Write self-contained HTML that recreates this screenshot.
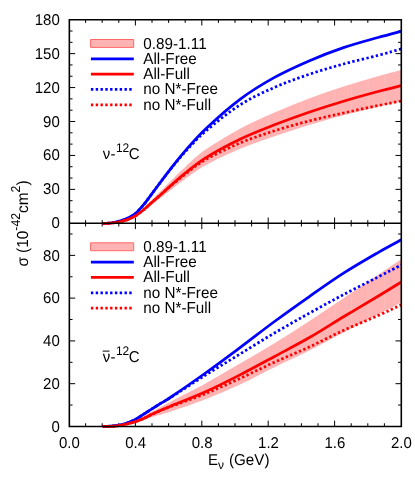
<!DOCTYPE html><html><head><meta charset="utf-8"><style>html,body{margin:0;padding:0;background:#fff}svg{display:block;will-change:transform}text{text-rendering:geometricPrecision;font-family:"Liberation Sans",sans-serif;fill:#000}</style></head><body>
<svg width="415" height="485" viewBox="0 0 415 485">
<rect width="415" height="485" fill="#fff"/>
<defs><clipPath id="ct"><rect x="69.35" y="19.70" width="331.95" height="206.60"/></clipPath><clipPath id="cb"><rect x="69.35" y="223.30" width="331.95" height="206.15"/></clipPath></defs>
<path d="M85.60 19.70v3.20M85.60 220.10v6.40M85.60 426.45v-3.20M102.20 19.70v3.20M102.20 220.10v6.40M102.20 426.45v-3.20M118.80 19.70v3.20M118.80 220.10v6.40M118.80 426.45v-3.20M135.40 19.70v5.80M135.40 217.50v11.60M135.40 426.45v-5.80M152.00 19.70v3.20M152.00 220.10v6.40M152.00 426.45v-3.20M168.60 19.70v3.20M168.60 220.10v6.40M168.60 426.45v-3.20M185.20 19.70v3.20M185.20 220.10v6.40M185.20 426.45v-3.20M201.80 19.70v5.80M201.80 217.50v11.60M201.80 426.45v-5.80M218.40 19.70v3.20M218.40 220.10v6.40M218.40 426.45v-3.20M235.00 19.70v3.20M235.00 220.10v6.40M235.00 426.45v-3.20M251.60 19.70v3.20M251.60 220.10v6.40M251.60 426.45v-3.20M268.20 19.70v5.80M268.20 217.50v11.60M268.20 426.45v-5.80M284.80 19.70v3.20M284.80 220.10v6.40M284.80 426.45v-3.20M301.40 19.70v3.20M301.40 220.10v6.40M301.40 426.45v-3.20M318.00 19.70v3.20M318.00 220.10v6.40M318.00 426.45v-3.20M334.60 19.70v5.80M334.60 217.50v11.60M334.60 426.45v-5.80M351.20 19.70v3.20M351.20 220.10v6.40M351.20 426.45v-3.20M367.80 19.70v3.20M367.80 220.10v6.40M367.80 426.45v-3.20M384.40 19.70v3.20M384.40 220.10v6.40M384.40 426.45v-3.20M69.35 211.99h3.20M401.30 211.99h-3.20M69.35 200.68h3.20M401.30 200.68h-3.20M69.35 189.37h5.80M401.30 189.37h-5.80M69.35 178.06h3.20M401.30 178.06h-3.20M69.35 166.74h3.20M401.30 166.74h-3.20M69.35 155.43h5.80M401.30 155.43h-5.80M69.35 144.12h3.20M401.30 144.12h-3.20M69.35 132.81h3.20M401.30 132.81h-3.20M69.35 121.50h5.80M401.30 121.50h-5.80M69.35 110.19h3.20M401.30 110.19h-3.20M69.35 98.88h3.20M401.30 98.88h-3.20M69.35 87.57h5.80M401.30 87.57h-5.80M69.35 76.26h3.20M401.30 76.26h-3.20M69.35 64.94h3.20M401.30 64.94h-3.20M69.35 53.63h5.80M401.30 53.63h-5.80M69.35 42.32h3.20M401.30 42.32h-3.20M69.35 31.01h3.20M401.30 31.01h-3.20M69.35 405.07h3.20M401.30 405.07h-3.20M69.35 383.68h5.80M401.30 383.68h-5.80M69.35 362.30h3.20M401.30 362.30h-3.20M69.35 340.91h5.80M401.30 340.91h-5.80M69.35 319.53h3.20M401.30 319.53h-3.20M69.35 298.14h5.80M401.30 298.14h-5.80M69.35 276.76h3.20M401.30 276.76h-3.20M69.35 255.38h5.80M401.30 255.38h-5.80M69.35 233.99h3.20M401.30 233.99h-3.20" stroke="#000" stroke-width="1.00" fill="none"/>
<path d="M102.70 223.30 C104.00 223.26 107.82 223.32 110.50 223.07 C113.18 222.83 116.05 222.44 118.80 221.84 C121.55 221.24 124.23 220.62 127.00 219.47 C129.77 218.33 132.62 216.89 135.40 214.97 C138.18 213.06 140.93 210.55 143.70 208.00 C146.47 205.45 149.03 202.62 152.00 199.68 C154.97 196.73 158.33 193.51 161.50 190.34 C164.67 187.17 167.05 184.56 171.00 180.66 C174.95 176.76 179.43 172.11 185.20 166.94 C190.97 161.76 196.47 155.99 205.60 149.61 C214.73 143.24 228.52 134.88 240.00 128.69 C251.48 122.50 263.00 117.53 274.50 112.49 C286.00 107.44 297.50 102.75 309.00 98.43 C320.50 94.11 332.00 90.27 343.50 86.57 C355.00 82.87 368.35 79.00 378.00 76.25 C387.65 73.49 397.50 71.08 401.40 70.05 L401.40 101.44 C397.50 102.31 387.65 104.36 378.00 106.66 C368.35 108.96 355.00 112.19 343.50 115.24 C332.00 118.29 320.50 121.50 309.00 124.98 C297.50 128.46 286.00 132.15 274.50 136.13 C263.00 140.11 251.48 144.00 240.00 148.87 C228.52 153.74 214.73 160.32 205.60 165.33 C196.47 170.35 190.97 174.89 185.20 178.96 C179.43 183.03 174.95 186.69 171.00 189.76 C167.05 192.83 164.67 194.88 161.50 197.37 C158.33 199.86 154.97 202.40 152.00 204.72 C149.03 207.03 146.47 209.26 143.70 211.26 C140.93 213.27 138.18 215.25 135.40 216.75 C132.62 218.26 129.77 219.39 127.00 220.29 C124.23 221.19 121.55 221.68 118.80 222.15 C116.05 222.62 113.18 222.93 110.50 223.12 C107.82 223.31 104.00 223.27 102.70 223.30 Z" fill="#ffb3b3" clip-path="url(#ct)"/>
<clipPath id="sct"><path d="M102.70 223.30 C104.00 223.26 107.82 223.32 110.50 223.07 C113.18 222.83 116.05 222.44 118.80 221.84 C121.55 221.24 124.23 220.62 127.00 219.47 C129.77 218.33 132.62 216.89 135.40 214.97 C138.18 213.06 140.93 210.55 143.70 208.00 C146.47 205.45 149.03 202.62 152.00 199.68 C154.97 196.73 158.33 193.51 161.50 190.34 C164.67 187.17 167.05 184.56 171.00 180.66 C174.95 176.76 179.43 172.11 185.20 166.94 C190.97 161.76 196.47 155.99 205.60 149.61 C214.73 143.24 228.52 134.88 240.00 128.69 C251.48 122.50 263.00 117.53 274.50 112.49 C286.00 107.44 297.50 102.75 309.00 98.43 C320.50 94.11 332.00 90.27 343.50 86.57 C355.00 82.87 368.35 79.00 378.00 76.25 C387.65 73.49 397.50 71.08 401.40 70.05 L401.40 101.44 C397.50 102.31 387.65 104.36 378.00 106.66 C368.35 108.96 355.00 112.19 343.50 115.24 C332.00 118.29 320.50 121.50 309.00 124.98 C297.50 128.46 286.00 132.15 274.50 136.13 C263.00 140.11 251.48 144.00 240.00 148.87 C228.52 153.74 214.73 160.32 205.60 165.33 C196.47 170.35 190.97 174.89 185.20 178.96 C179.43 183.03 174.95 186.69 171.00 189.76 C167.05 192.83 164.67 194.88 161.50 197.37 C158.33 199.86 154.97 202.40 152.00 204.72 C149.03 207.03 146.47 209.26 143.70 211.26 C140.93 213.27 138.18 215.25 135.40 216.75 C132.62 218.26 129.77 219.39 127.00 220.29 C124.23 221.19 121.55 221.68 118.80 222.15 C116.05 222.62 113.18 222.93 110.50 223.12 C107.82 223.31 104.00 223.27 102.70 223.30 Z"/></clipPath>
<path d="M119.14 20V427M135.74 20V427M152.34 20V427M168.94 20V427M185.53 20V427M202.13 20V427M218.73 20V427M235.33 20V427M251.92 20V427M268.52 20V427M285.12 20V427M301.72 20V427M318.31 20V427M334.91 20V427M351.51 20V427M368.11 20V427M384.70 20V427" stroke="#fff" stroke-opacity="0.12" stroke-width="1" fill="none" clip-path="url(#sct)"/>
<path d="M102.70 223.30 C104.00 223.25 107.82 223.33 110.50 223.00 C113.18 222.67 116.05 222.05 118.80 221.30 C121.55 220.55 124.23 219.80 127.00 218.50 C129.77 217.20 132.62 215.80 135.40 213.50 C138.18 211.20 140.93 208.02 143.70 204.70 C146.47 201.38 149.03 197.57 152.00 193.60 C154.97 189.63 158.33 185.12 161.50 180.90 C164.67 176.68 167.05 173.32 171.00 168.30 C174.95 163.28 179.43 157.37 185.20 150.80 C190.97 144.23 196.47 137.48 205.60 128.90 C214.73 120.32 228.52 107.88 240.00 99.30 C251.48 90.72 263.00 83.80 274.50 77.40 C286.00 71.00 297.50 65.87 309.00 60.90 C320.50 55.93 332.00 51.50 343.50 47.60 C355.00 43.70 368.35 40.23 378.00 37.50 C387.65 34.77 397.50 32.25 401.40 31.20" fill="none" stroke="#0000ff" stroke-width="2.75" clip-path="url(#ct)"/>
<path d="M102.70 223.30 C104.00 223.25 107.82 223.33 110.50 223.00 C113.18 222.67 116.05 222.05 118.80 221.30 C121.55 220.55 124.23 219.80 127.00 218.50 C129.77 217.20 132.62 215.80 135.40 213.50 C138.18 211.20 140.93 208.02 143.70 204.70 C146.47 201.38 149.03 197.57 152.00 193.60 C154.97 189.63 158.33 185.07 161.50 180.90 C164.67 176.73 167.05 173.45 171.00 168.60 C174.95 163.75 179.43 158.02 185.20 151.80 C190.97 145.58 196.47 139.12 205.60 131.30 C214.73 123.48 228.52 112.22 240.00 104.90 C251.48 97.58 263.00 92.48 274.50 87.40 C286.00 82.32 297.50 78.30 309.00 74.40 C320.50 70.50 332.00 67.17 343.50 64.00 C355.00 60.83 368.35 57.93 378.00 55.40 C387.65 52.87 397.50 49.90 401.40 48.80" fill="none" stroke="#0000ff" stroke-width="2.75" stroke-dasharray="2.4 2.4" clip-path="url(#ct)"/>
<path d="M102.70 223.30 C104.00 223.27 107.82 223.32 110.50 223.10 C113.18 222.88 116.05 222.53 118.80 222.00 C121.55 221.47 124.23 220.92 127.00 219.90 C129.77 218.88 132.62 217.60 135.40 215.90 C138.18 214.20 140.93 211.97 143.70 209.70 C146.47 207.43 149.03 204.92 152.00 202.30 C154.97 199.68 158.33 196.82 161.50 194.00 C164.67 191.18 167.05 188.87 171.00 185.40 C174.95 181.93 179.43 177.80 185.20 173.20 C190.97 168.60 196.47 163.47 205.60 157.80 C214.73 152.13 228.52 144.70 240.00 139.20 C251.48 133.70 263.00 129.30 274.50 124.80 C286.00 120.30 297.50 116.13 309.00 112.20 C320.50 108.27 332.00 104.65 343.50 101.20 C355.00 97.75 368.35 94.10 378.00 91.50 C387.65 88.90 397.50 86.58 401.40 85.60" fill="none" stroke="#ff0000" stroke-width="2.75" clip-path="url(#ct)"/>
<path d="M102.70 223.30 C104.00 223.27 107.82 223.32 110.50 223.10 C113.18 222.88 116.05 222.53 118.80 222.00 C121.55 221.47 124.23 220.92 127.00 219.90 C129.77 218.88 132.62 217.60 135.40 215.90 C138.18 214.20 140.93 211.97 143.70 209.70 C146.47 207.43 149.03 204.92 152.00 202.30 C154.97 199.68 158.33 196.77 161.50 194.00 C164.67 191.23 167.05 189.00 171.00 185.70 C174.95 182.40 179.43 178.55 185.20 174.20 C190.97 169.85 196.47 164.80 205.60 159.60 C214.73 154.40 228.52 147.80 240.00 143.00 C251.48 138.20 263.00 134.47 274.50 130.80 C286.00 127.13 297.50 123.97 309.00 121.00 C320.50 118.03 332.00 115.57 343.50 113.00 C355.00 110.43 368.35 107.60 378.00 105.60 C387.65 103.60 397.50 101.77 401.40 101.00" fill="none" stroke="#ff0000" stroke-width="2.75" stroke-dasharray="2.4 2.4" clip-path="url(#ct)"/>
<path d="M102.70 426.45 C105.38 426.26 113.35 426.27 118.80 425.30 C124.25 424.33 129.87 422.88 135.40 420.60 C140.93 418.32 146.07 414.80 152.00 411.60 C157.93 408.40 162.08 406.08 171.00 401.40 C179.92 396.72 194.00 389.80 205.50 383.50 C217.00 377.20 228.50 370.32 240.00 363.60 C251.50 356.88 263.00 350.27 274.50 343.20 C286.00 336.13 297.50 328.70 309.00 321.20 C320.50 313.70 332.00 305.90 343.50 298.20 C355.00 290.50 368.35 281.53 378.00 275.00 C387.65 268.47 397.50 261.67 401.40 259.00 L401.40 302.50 C397.50 304.50 387.65 309.50 378.00 314.50 C368.35 319.50 355.00 326.45 343.50 332.50 C332.00 338.55 320.50 345.02 309.00 350.80 C297.50 356.58 286.00 361.58 274.50 367.20 C263.00 372.82 251.50 379.15 240.00 384.50 C228.50 389.85 217.00 394.82 205.50 399.30 C194.00 403.78 179.92 408.45 171.00 411.40 C162.08 414.35 157.93 415.13 152.00 417.00 C146.07 418.87 140.93 421.15 135.40 422.60 C129.87 424.05 124.25 425.06 118.80 425.70 C113.35 426.34 105.38 426.32 102.70 426.45 Z" fill="#ffb3b3" clip-path="url(#cb)"/>
<clipPath id="scb"><path d="M102.70 426.45 C105.38 426.26 113.35 426.27 118.80 425.30 C124.25 424.33 129.87 422.88 135.40 420.60 C140.93 418.32 146.07 414.80 152.00 411.60 C157.93 408.40 162.08 406.08 171.00 401.40 C179.92 396.72 194.00 389.80 205.50 383.50 C217.00 377.20 228.50 370.32 240.00 363.60 C251.50 356.88 263.00 350.27 274.50 343.20 C286.00 336.13 297.50 328.70 309.00 321.20 C320.50 313.70 332.00 305.90 343.50 298.20 C355.00 290.50 368.35 281.53 378.00 275.00 C387.65 268.47 397.50 261.67 401.40 259.00 L401.40 302.50 C397.50 304.50 387.65 309.50 378.00 314.50 C368.35 319.50 355.00 326.45 343.50 332.50 C332.00 338.55 320.50 345.02 309.00 350.80 C297.50 356.58 286.00 361.58 274.50 367.20 C263.00 372.82 251.50 379.15 240.00 384.50 C228.50 389.85 217.00 394.82 205.50 399.30 C194.00 403.78 179.92 408.45 171.00 411.40 C162.08 414.35 157.93 415.13 152.00 417.00 C146.07 418.87 140.93 421.15 135.40 422.60 C129.87 424.05 124.25 425.06 118.80 425.70 C113.35 426.34 105.38 426.32 102.70 426.45 Z"/></clipPath>
<path d="M119.14 20V427M135.74 20V427M152.34 20V427M168.94 20V427M185.53 20V427M202.13 20V427M218.73 20V427M235.33 20V427M251.92 20V427M268.52 20V427M285.12 20V427M301.72 20V427M318.31 20V427M334.91 20V427M351.51 20V427M368.11 20V427M384.70 20V427" stroke="#fff" stroke-opacity="0.12" stroke-width="1" fill="none" clip-path="url(#scb)"/>
<path d="M102.70 426.45 C104.00 426.41 107.82 426.41 110.50 426.20 C113.18 425.99 116.05 425.73 118.80 425.20 C121.55 424.67 124.23 423.97 127.00 423.00 C129.77 422.03 132.62 420.87 135.40 419.40 C138.18 417.93 140.93 415.97 143.70 414.20 C146.47 412.43 149.03 410.68 152.00 408.80 C154.97 406.92 158.33 404.87 161.50 402.90 C164.67 400.93 163.67 401.98 171.00 397.00 C178.33 392.02 194.00 381.23 205.50 373.00 C217.00 364.77 228.50 356.18 240.00 347.60 C251.50 339.02 263.00 329.97 274.50 321.50 C286.00 313.03 297.50 304.85 309.00 296.80 C320.50 288.75 332.00 280.57 343.50 273.20 C355.00 265.83 368.35 258.17 378.00 252.60 C387.65 247.03 397.50 241.93 401.40 239.80" fill="none" stroke="#0000ff" stroke-width="2.75" clip-path="url(#cb)"/>
<path d="M102.70 426.45 C104.00 426.41 107.82 426.41 110.50 426.20 C113.18 425.99 116.05 425.73 118.80 425.20 C121.55 424.67 124.23 423.97 127.00 423.00 C129.77 422.03 132.62 420.87 135.40 419.40 C138.18 417.93 140.93 415.97 143.70 414.20 C146.47 412.43 149.03 410.68 152.00 408.80 C154.97 406.92 158.33 404.82 161.50 402.90 C164.67 400.98 163.67 401.93 171.00 397.30 C178.33 392.67 194.00 382.32 205.50 375.10 C217.00 367.88 228.50 361.02 240.00 354.00 C251.50 346.98 263.00 339.77 274.50 333.00 C286.00 326.23 297.50 319.80 309.00 313.40 C320.50 307.00 332.00 300.67 343.50 294.60 C355.00 288.53 368.35 281.95 378.00 277.00 C387.65 272.05 397.50 266.92 401.40 264.90" fill="none" stroke="#0000ff" stroke-width="2.75" stroke-dasharray="2.4 2.4" clip-path="url(#cb)"/>
<path d="M102.70 426.45 C104.00 426.43 107.82 426.44 110.50 426.30 C113.18 426.16 116.05 425.98 118.80 425.60 C121.55 425.22 124.23 424.67 127.00 424.00 C129.77 423.33 132.62 422.53 135.40 421.60 C138.18 420.67 140.93 419.62 143.70 418.40 C146.47 417.18 149.03 415.70 152.00 414.30 C154.97 412.90 158.33 411.38 161.50 410.00 C164.67 408.62 163.67 409.03 171.00 406.00 C178.33 402.97 194.00 396.98 205.50 391.80 C217.00 386.62 228.50 380.78 240.00 374.90 C251.50 369.02 263.00 362.68 274.50 356.50 C286.00 350.32 297.50 344.42 309.00 337.80 C320.50 331.18 332.00 323.72 343.50 316.80 C355.00 309.88 368.35 302.12 378.00 296.30 C387.65 290.48 397.50 284.30 401.40 281.90" fill="none" stroke="#ff0000" stroke-width="2.75" clip-path="url(#cb)"/>
<path d="M102.70 426.45 C104.00 426.43 107.82 426.44 110.50 426.30 C113.18 426.16 116.05 425.98 118.80 425.60 C121.55 425.22 124.23 424.67 127.00 424.00 C129.77 423.33 132.62 422.53 135.40 421.60 C138.18 420.67 140.93 419.62 143.70 418.40 C146.47 417.18 149.03 415.70 152.00 414.30 C154.97 412.90 158.33 411.32 161.50 410.00 C164.67 408.68 163.67 409.13 171.00 406.40 C178.33 403.67 194.00 398.27 205.50 393.60 C217.00 388.93 228.50 383.63 240.00 378.40 C251.50 373.17 263.00 367.42 274.50 362.20 C286.00 356.98 297.50 352.40 309.00 347.10 C320.50 341.80 332.00 335.65 343.50 330.40 C355.00 325.15 368.35 319.87 378.00 315.60 C387.65 311.33 397.50 306.60 401.40 304.80" fill="none" stroke="#ff0000" stroke-width="2.75" stroke-dasharray="2.4 2.4" clip-path="url(#cb)"/>
<path d="M69.35 19.70H401.30V426.45H69.35Z M69.35 223.30H401.30" stroke="#000" stroke-width="1.6" fill="none" stroke-linejoin="miter"/>
<text transform="translate(59.80 228.30) scale(1 1.040)" font-size="15" text-anchor="end">0</text>
<text transform="translate(59.80 194.37) scale(1 1.040)" font-size="15" text-anchor="end">30</text>
<text transform="translate(59.80 160.43) scale(1 1.040)" font-size="15" text-anchor="end">60</text>
<text transform="translate(59.80 126.50) scale(1 1.040)" font-size="15" text-anchor="end">90</text>
<text transform="translate(59.80 92.57) scale(1 1.040)" font-size="15" text-anchor="end">120</text>
<text transform="translate(59.80 58.63) scale(1 1.040)" font-size="15" text-anchor="end">150</text>
<text transform="translate(59.80 24.70) scale(1 1.040)" font-size="15" text-anchor="end">180</text>
<text transform="translate(59.80 431.80) scale(1 1.040)" font-size="15" text-anchor="end">0</text>
<text transform="translate(59.80 389.03) scale(1 1.040)" font-size="15" text-anchor="end">20</text>
<text transform="translate(59.80 346.26) scale(1 1.040)" font-size="15" text-anchor="end">40</text>
<text transform="translate(59.80 303.49) scale(1 1.040)" font-size="15" text-anchor="end">60</text>
<text transform="translate(59.80 260.73) scale(1 1.040)" font-size="15" text-anchor="end">80</text>
<text transform="translate(69.30 447.60) scale(1 1.040)" font-size="15" text-anchor="middle">0.0</text>
<text transform="translate(135.70 447.60) scale(1 1.040)" font-size="15" text-anchor="middle">0.4</text>
<text transform="translate(202.10 447.60) scale(1 1.040)" font-size="15" text-anchor="middle">0.8</text>
<text transform="translate(268.50 447.60) scale(1 1.040)" font-size="15" text-anchor="middle">1.2</text>
<text transform="translate(334.90 447.60) scale(1 1.040)" font-size="15" text-anchor="middle">1.6</text>
<text transform="translate(401.30 447.60) scale(1 1.040)" font-size="15" text-anchor="middle">2.0</text>
<rect x="90.6" y="39.50" width="43.1" height="7.9" fill="#ffb3b3" stroke="#ff6868" stroke-width="1" stroke-linejoin="round"/>
<path d="M90.9 58.83H133.8" stroke="#0000ff" stroke-width="2.75"/>
<path d="M90.9 74.16H133.8" stroke="#ff0000" stroke-width="2.75"/>
<path d="M90.9 89.49H133.8" stroke="#0000ff" stroke-width="2.75" stroke-dasharray="2.4 2.4"/>
<path d="M90.9 104.82H133.8" stroke="#ff0000" stroke-width="2.75" stroke-dasharray="2.4 2.4"/>
<text transform="translate(143.30 48.50) scale(1 1.040)" font-size="15.25">0.89-1.11</text>
<text transform="translate(143.30 63.83) scale(1 1.040)" font-size="15.25">All-Free</text>
<text transform="translate(143.30 79.16) scale(1 1.040)" font-size="15.25">All-Full</text>
<text transform="translate(143.30 94.49) scale(1 1.040)" font-size="15.25">no N*-Free</text>
<text transform="translate(143.30 109.82) scale(1 1.040)" font-size="15.25">no N*-Full</text>
<rect x="90.6" y="242.80" width="43.1" height="7.9" fill="#ffb3b3" stroke="#ff6868" stroke-width="1" stroke-linejoin="round"/>
<path d="M90.9 262.13H133.8" stroke="#0000ff" stroke-width="2.75"/>
<path d="M90.9 277.46H133.8" stroke="#ff0000" stroke-width="2.75"/>
<path d="M90.9 292.79H133.8" stroke="#0000ff" stroke-width="2.75" stroke-dasharray="2.4 2.4"/>
<path d="M90.9 308.12H133.8" stroke="#ff0000" stroke-width="2.75" stroke-dasharray="2.4 2.4"/>
<text transform="translate(143.30 251.80) scale(1 1.040)" font-size="15.25">0.89-1.11</text>
<text transform="translate(143.30 267.13) scale(1 1.040)" font-size="15.25">All-Free</text>
<text transform="translate(143.30 282.46) scale(1 1.040)" font-size="15.25">All-Full</text>
<text transform="translate(143.30 297.79) scale(1 1.040)" font-size="15.25">no N*-Free</text>
<text transform="translate(143.30 313.12) scale(1 1.040)" font-size="15.25">no N*-Full</text>
<text transform="translate(102.70 158.80) scale(1 1.040)" font-size="15">ν</text>
<text transform="translate(110.50 158.80) scale(1 1.040)" font-size="15">-</text>
<text transform="translate(115.90 151.60) scale(1 1.040)" font-size="12">12</text>
<text transform="translate(128.80 158.80) scale(1 1.040)" font-size="15">C</text>
<text transform="translate(102.70 362.40) scale(1 1.040)" font-size="15">ν</text>
<text transform="translate(110.50 362.40) scale(1 1.040)" font-size="15">-</text>
<text transform="translate(115.90 355.20) scale(1 1.040)" font-size="12">12</text>
<text transform="translate(128.80 362.40) scale(1 1.040)" font-size="15">C</text>
<path d="M102.7 351.10H109.5" stroke="#000" stroke-width="1"/>
<text transform="translate(208.00 464.60) scale(1 1.040)" font-size="15">E</text>
<text transform="translate(218.00 468.70) scale(1 1.040)" font-size="12">ν</text>
<text transform="translate(229.00 464.60) scale(1 1.040)" font-size="15.2">(GeV)</text>
<g transform="translate(28.2 266.6) rotate(-90)">
<text transform="translate(0.00 0.00) scale(1 1.040)" font-size="15.4">σ</text>
<text transform="translate(13.60 0.00) scale(1 1.040)" font-size="15.4">(10</text>
<text transform="translate(35.90 -8.60) scale(1 1.040)" font-size="12.3">-42</text>
<text transform="translate(53.70 0.00) scale(1 1.040)" font-size="15.4">cm</text>
<text transform="translate(74.20 -8.60) scale(1 1.040)" font-size="12.3">2</text>
<text transform="translate(81.00 0.00) scale(1 1.040)" font-size="15.4">)</text>
</g>
</svg></body></html>
